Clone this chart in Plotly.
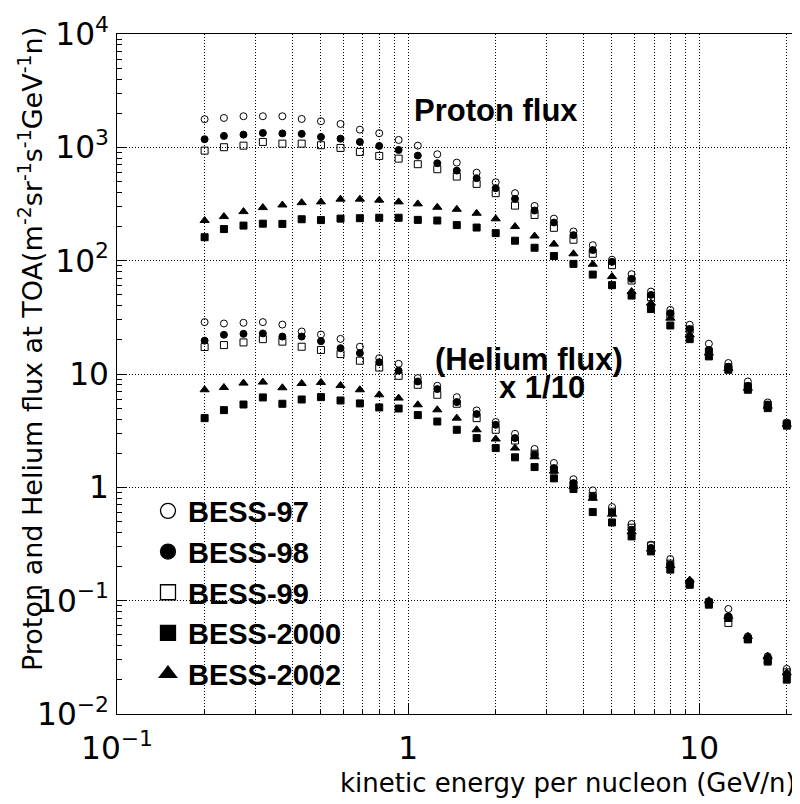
import plotly.graph_objects as go

# Kinetic energy per nucleon (GeV/n), bin centres
energy = [0.2, 0.233, 0.272, 0.317, 0.370, 0.431, 0.502, 0.586, 0.683, 0.796,
          0.928, 1.08, 1.26, 1.47, 1.72, 2.0, 2.33, 2.72, 3.17, 3.70,
          4.31, 5.02, 5.86, 6.83, 7.96, 9.28, 10.8, 12.6, 14.7, 17.2, 20.0]

# Proton flux
p97 = [1770, 1816, 1880, 1880, 1880, 1780, 1699, 1608, 1432, 1332, 1162, 1035, 869, 733, 598, 492,
       394, 304, 235, 181, 137, 102, 76.0, 53.4, 36.8, 27.2, 18.5, 12.5, 8.59, 5.61, 3.73]
p98 = [1179, 1261, 1295, 1340, 1327, 1315, 1235, 1193, 1116, 1029, 948, 845, 724, 623, 534, 436,
       351, 277, 217, 168, 124, 97.6, 69.1, 49.9, 34.4, 24.9, 16.3, 11.6, 7.87, 5.35, 3.64]
p99 = [935, 1002, 1035, 1116, 1078, 1078, 1044, 988, 911, 840, 795, 710, 641, 552, 476, 394,
       306, 253, 195, 153, 115, 91.3, 66.8, 47.6, 33.3, 24.6, 15.8, 11.4, 7.74, 5.35, 3.64]
p00 = [161, 190, 204, 212, 211, 232, 228, 235, 237, 239, 239, 229, 226, 206, 196, 175,
       150, 130, 110, 93.7, 75.4, 60.8, 49.2, 37.4, 26.8, 20.3, 14.3, 10.9, 7.26, 5.0, 3.5]
p02 = [226, 245, 271, 294, 310, 325, 330, 349, 349, 342, 330, 317, 296, 284, 262, 234,
       200, 165, 140, 115, 93, 72.4, 53.4, 42.2, 31.1, 22.2, 15.3, 11.2, 7.5, 5.2, 3.6]

# Helium flux x 1/10
h97 = [28.7, 27.9, 28.3, 28.7, 27.3, 23.7, 22.3, 20.4, 17.4, 13.8, 12.3, 9.20, 7.87, 6.25, 4.77, 3.77,
       2.97, 2.18, 1.64, 1.18, 0.94, 0.67, 0.475, 0.312, 0.233, 0.148, 0.0986, 0.0845, 0.0484, 0.0323, 0.025]
h98 = [19.7, 22.2, 22.6, 22.8, 21.4, 21.4, 19.5, 16.9, 15.3, 12.7, 10.7, 8.59, 7.36, 5.65, 4.43, 3.56,
       2.72, 1.94, 1.48, 1.09, 0.83, 0.60, 0.423, 0.292, 0.208, 0.143, 0.0953, 0.0728, 0.047, 0.031, 0.0222]
h99 = [17.3, 18.0, 19.0, 20.3, 19.3, 17.4, 16.3, 15.0, 13.1, 11.4, 9.64, 8.03, 6.56, 5.46, 4.08, 3.22,
       2.59, 1.98, 1.43, 1.06, 0.84, 0.61, 0.44, 0.306, 0.212, 0.143, 0.0966, 0.0636, 0.046, 0.0298, 0.0233]
h00 = [4.08, 4.80, 5.38, 6.21, 5.46, 5.96, 6.25, 5.84, 5.50, 5.07, 4.96, 4.34, 3.81, 3.22, 2.72, 2.22,
       1.84, 1.51, 1.20, 0.966, 0.605, 0.49, 0.369, 0.272, 0.188, 0.138, 0.0922, 0.0703, 0.0455, 0.029, 0.0201]
h02 = [7.26, 7.60, 8.31, 8.48, 7.56, 8.25, 8.43, 7.92, 7.26, 6.56, 6.13, 5.35, 4.83, 4.08, 3.22, 2.67,
       2.22, 1.86, 1.39, 1.02, 0.80, 0.58, 0.406, 0.285, 0.204, 0.152, 0.10, 0.0728, 0.0484, 0.0323, 0.0231]

names = ["BESS-97", "BESS-98", "BESS-99", "BESS-2000", "BESS-2002"]
protons = [p97, p98, p99, p00, p02]
heliums = [h97, h98, h99, h00, h02]
symbols = ["circle-open", "circle", "square-open", "square", "triangle-up"]
sizes = [7, 7, 7, 7, 8]

fig = go.Figure()
for name, p, h, sym, sz in zip(names, protons, heliums, symbols, sizes):
    for series in (p, h):
        fig.add_trace(go.Scatter(
            x=energy, y=series, mode="markers", showlegend=False, name=name,
            marker=dict(symbol=sym, size=sz, color="black", line=dict(color="black", width=1)),
        ))
    # legend entry
    fig.add_trace(go.Scatter(
        x=[None], y=[None], mode="markers", name=name, showlegend=True,
        marker=dict(symbol=sym, size=15, color="black", line=dict(color="black", width=1.3)),
    ))

axis_common = dict(
    type="log", showline=True, linecolor="black", linewidth=1, mirror=True,
    ticks="inside", ticklen=10, tickcolor="black", tickwidth=1,
    dtick=1, exponentformat="power",
    showgrid=True, gridcolor="black", griddash="1px,2px", gridwidth=1,
    zeroline=False,
    tickfont=dict(family="DejaVu Sans", size=25, color="black"),
)

fig.update_xaxes(
    **axis_common, range=[-1, 1.3396], ticklabelstandoff=8,
    minor=dict(ticks="inside", ticklen=5, tickcolor="black", dtick="D1",
               showgrid=True, gridcolor="black", griddash="1px,2px", gridwidth=1),
)
fig.update_yaxes(
    **axis_common, range=[-2, 4], ticklabelstandoff=2,
    minor=dict(ticks="inside", ticklen=5, tickcolor="black", dtick="D1", showgrid=False),
)

bold = dict(family="Liberation Sans", size=31, color="black", weight="bold")
fig.add_annotation(text="Proton flux", xref="paper", yref="paper", x=0.5565, y=0.888,
                   xanchor="center", yanchor="middle", showarrow=False, font=bold)
fig.add_annotation(text="(Helium flux)", xref="paper", yref="paper", x=0.605, y=0.5206,
                   xanchor="center", yanchor="middle", showarrow=False, font=bold)
fig.add_annotation(text="x 1/10", xref="paper", yref="paper", x=0.624, y=0.480,
                   xanchor="center", yanchor="middle", showarrow=False, font=bold)

fig.add_annotation(text="kinetic energy per nucleon (GeV/n)", xref="paper", yref="paper",
                   x=1, y=0, xanchor="right", yanchor="top", yshift=-52, showarrow=False,
                   font=dict(family="DejaVu Sans", size=26, color="black"))
fig.add_annotation(text="Proton and Helium flux at TOA(m<sup>-2</sup>sr<sup>-1</sup>s<sup>-1</sup>GeV<sup>-1</sup>n)",
                   xref="paper", yref="paper", x=0, y=1, xanchor="center", yanchor="top",
                   xshift=-87, yshift=9, textangle=-90, showarrow=False,
                   font=dict(family="DejaVu Sans", size=27, color="black"))

# The page body has an 8px margin, so the figure is made 8px smaller in each direction
fig.update_layout(
    width=792, height=796,
    margin=dict(l=109, r=2, t=26, b=90),
    plot_bgcolor="white", paper_bgcolor="white",
    font=dict(family="DejaVu Sans", color="black"),
    legend=dict(x=0.0455, y=0.336, xanchor="left", yanchor="top",
                bgcolor="rgba(0,0,0,0)", itemsizing="trace",
                font=dict(family="Liberation Sans", size=29, color="black", weight="bold")),
)

fig.write_html("out.html")
